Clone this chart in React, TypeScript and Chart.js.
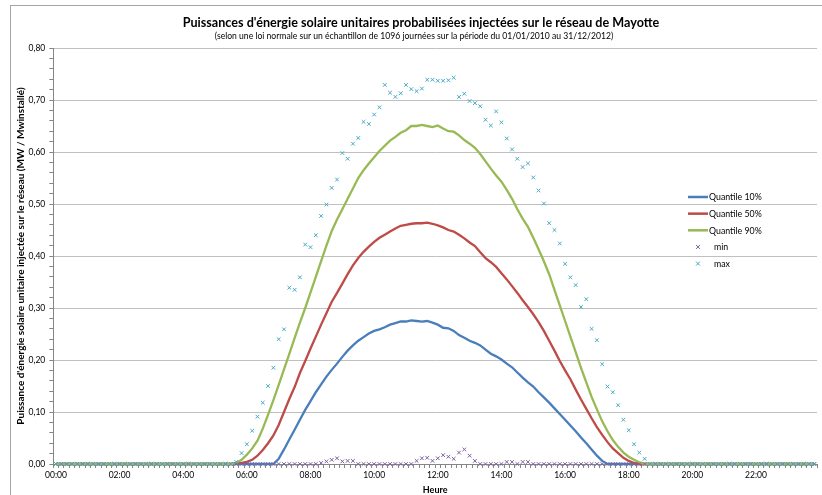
import { useEffect, useRef } from 'react';
import { Chart, registerables } from 'chart.js';

Chart.register(...registerables);

const FONT = 'Lato, "Noto Sans", sans-serif';

const titleText = "Puissances d'énergie solaire unitaires probabilisées injectées sur le réseau de Mayotte";
const subtitleText = "(selon une loi normale sur un échantillon de 1096 journées sur la période du 01/01/2010 au 31/12/2012)";
const yAxisTitle = "Puissance d'énergie solaire unitaire injectée sur le réseau (MW / Mwinstallé)";
const xAxisTitle = 'Heure';

const timeLabels = [
  '00:00','00:10','00:20','00:30','00:40','00:50','01:00','01:10','01:20','01:30','01:40','01:50',
  '02:00','02:10','02:20','02:30','02:40','02:50','03:00','03:10','03:20','03:30','03:40','03:50',
  '04:00','04:10','04:20','04:30','04:40','04:50','05:00','05:10','05:20','05:30','05:40','05:50',
  '06:00','06:10','06:20','06:30','06:40','06:50','07:00','07:10','07:20','07:30','07:40','07:50',
  '08:00','08:10','08:20','08:30','08:40','08:50','09:00','09:10','09:20','09:30','09:40','09:50',
  '10:00','10:10','10:20','10:30','10:40','10:50','11:00','11:10','11:20','11:30','11:40','11:50',
  '12:00','12:10','12:20','12:30','12:40','12:50','13:00','13:10','13:20','13:30','13:40','13:50',
  '14:00','14:10','14:20','14:30','14:40','14:50','15:00','15:10','15:20','15:30','15:40','15:50',
  '16:00','16:10','16:20','16:30','16:40','16:50','17:00','17:10','17:20','17:30','17:40','17:50',
  '18:00','18:10','18:20','18:30','18:40','18:50','19:00','19:10','19:20','19:30','19:40','19:50',
  '20:00','20:10','20:20','20:30','20:40','20:50','21:00','21:10','21:20','21:30','21:40','21:50',
  '22:00','22:10','22:20','22:30','22:40','22:50','23:00','23:10','23:20','23:30','23:40','23:50',
];

const quantile10 = [
  0,0,0,0,0,0,0,0,0,0,0,0,
  0,0,0,0,0,0,0,0,0,0,0,0,
  0,0,0,0,0,0,0,0,0,0,0,0,
  0,0,0,0,0,0,0.010,0.028,0.047,0.066,0.085,0.104,
  0.121,0.138,0.153,0.168,0.181,0.193,0.206,0.218,0.228,0.237,0.244,0.251,
  0.256,0.259,0.263,0.268,0.271,0.274,0.274,0.276,0.275,0.274,0.275,0.272,
  0.268,0.262,0.261,0.256,0.248,0.243,0.237,0.233,0.228,0.220,0.212,0.207,
  0.201,0.193,0.186,0.176,0.166,0.157,0.149,0.138,0.128,0.118,0.107,0.096,
  0.085,0.074,0.063,0.051,0.040,0.028,0.016,0.006,0,0,0,0,
  0,0,0,0,0,0,0,0,0,0,0,0,
  0,0,0,0,0,0,0,0,0,0,0,0,
  0,0,0,0,0,0,0,0,0,0,0,0,
];

const quantile50 = [
  0,0,0,0,0,0,0,0,0,0,0,0,
  0,0,0,0,0,0,0,0,0,0,0,0,
  0,0,0,0,0,0,0,0,0,0,0.001,0.002,
  0.004,0.008,0.016,0.027,0.040,0.055,0.075,0.100,0.125,0.148,0.175,0.198,
  0.222,0.245,0.268,0.290,0.312,0.329,0.347,0.365,0.382,0.396,0.408,0.418,
  0.427,0.435,0.441,0.447,0.453,0.458,0.460,0.462,0.463,0.463,0.464,0.462,
  0.459,0.455,0.450,0.447,0.441,0.434,0.426,0.419,0.407,0.396,0.388,0.379,
  0.367,0.355,0.342,0.329,0.315,0.302,0.288,0.273,0.256,0.237,0.218,0.198,
  0.180,0.163,0.143,0.124,0.106,0.088,0.071,0.056,0.042,0.030,0.021,0.012,
  0.006,0.002,0,0,0,0,0,0,0,0,0,0,
  0,0,0,0,0,0,0,0,0,0,0,0,
  0,0,0,0,0,0,0,0,0,0,0,0,
];

const quantile90 = [
  0,0,0,0,0,0,0,0,0,0,0,0,
  0,0,0,0,0,0,0,0,0,0,0,0,
  0,0,0,0,0,0,0,0,0,0,0.002,0.008,
  0.018,0.030,0.045,0.068,0.095,0.123,0.152,0.182,0.212,0.242,0.272,0.300,
  0.330,0.360,0.390,0.420,0.448,0.470,0.490,0.510,0.530,0.550,0.565,0.578,
  0.590,0.602,0.612,0.622,0.629,0.637,0.642,0.650,0.650,0.652,0.650,0.648,
  0.651,0.645,0.640,0.639,0.632,0.623,0.616,0.608,0.596,0.582,0.568,0.555,
  0.543,0.527,0.510,0.490,0.472,0.456,0.435,0.413,0.390,0.365,0.335,0.305,
  0.275,0.245,0.215,0.185,0.157,0.129,0.105,0.082,0.063,0.046,0.033,0.022,
  0.014,0.008,0.003,0,0,0,0,0,0,0,0,0,
  0,0,0,0,0,0,0,0,0,0,0,0,
  0,0,0,0,0,0,0,0,0,0,0,0,
];

const minValues = [
  0,0,0,0,0,0,0,0,0,0,0,0,
  0,0,0,0,0,0,0,0,0,0,0,0,
  0,0,0,0,0,0,0,0,0,0,0,0,
  0,0,0,0,0,0,0,0,0,0,0,0,
  0,0,0.002,0.005,0.008,0.011,0.005,0.006,0.006,0,0,0,
  0,0,0,0,0,0,0,0,0.006,0.011,0.012,0.006,
  0.011,0.017,0.014,0.010,0.022,0.028,0.016,0.006,0,0,0,0,
  0,0.004,0.004,0,0.004,0.004,0,0,0,0,0,0,
  0,0,0,0,0,0,0,0,0,0,0,0,
  0,0,0,0,0,0,0,0,0,0,0,0,
  0,0,0,0,0,0,0,0,0,0,0,0,
  0,0,0,0,0,0,0,0,0,0,0,0,
];

const maxValues = [
  0,0,0,0,0,0,0,0,0,0,0,0,
  0,0,0,0,0,0,0,0,0,0,0,0,
  0,0,0,0,0,0,0,0,0,0,0.004,0.021,
  0.038,0.064,0.091,0.118,0.150,0.185,0.240,0.259,0.339,0.335,0.359,0.422,
  0.417,0.440,0.477,0.499,0.531,0.547,0.598,0.587,0.616,0.627,0.658,0.654,
  0.672,0.686,0.729,0.714,0.706,0.713,0.729,0.721,0.717,0.722,0.739,0.739,
  0.737,0.737,0.738,0.743,0.706,0.712,0.698,0.694,0.688,0.662,0.651,0.678,
  0.657,0.626,0.605,0.587,0.571,0.578,0.551,0.526,0.501,0.463,0.450,0.424,
  0.385,0.359,0.344,0.302,0.317,0.260,0.238,0.192,0.149,0.138,0.113,0.085,
  0.065,0.038,0.022,0.010,0,0,0,0,0,0,0,0,
  0,0,0,0,0,0,0,0,0,0,0,0,
  0,0,0,0,0,0,0,0,0,0,0,0,
];

const seriesNames = ['Quantile 10%', 'Quantile 50%', 'Quantile 90%', 'min', 'max'];
const seriesColors = ['#4A7EBB', '#BE4B48', '#98B954', '#7D60A0', '#46AAC5'];

const titlesPlugin = {
  id: 'titlesPlugin',
  afterDraw(chart: any) {
    const ctx = chart.ctx;
    ctx.save();
    ctx.fillStyle = '#000';
    ctx.textAlign = 'center';
    ctx.textBaseline = 'middle';
    ctx.font = `bold 12.6px ${FONT}`;
    ctx.fillText(titleText, 421, 23);
    ctx.font = `8.6px ${FONT}`;
    ctx.fillText(subtitleText, 414, 36);
    ctx.restore();
  },
};

const legendPlugin = {
  id: 'customLegend',
  afterDraw(chart: any) {
    const ctx = chart.ctx;
    const x0 = 688;
    const y0 = 197;
    const dy = 16.65;
    ctx.save();
    chart.data.datasets.forEach((ds: any, i: number) => {
      const y = y0 + i * dy;
      if (ds.showLine === false) {
        const cx = x0 + 10;
        const r = 2;
        ctx.strokeStyle = ds.pointBorderColor;
        ctx.lineWidth = 1;
        ctx.beginPath();
        ctx.moveTo(cx - r, y - r);
        ctx.lineTo(cx + r, y + r);
        ctx.moveTo(cx + r, y - r);
        ctx.lineTo(cx - r, y + r);
        ctx.stroke();
      } else {
        ctx.strokeStyle = ds.borderColor;
        ctx.lineWidth = 2.5;
        ctx.beginPath();
        ctx.moveTo(x0, y);
        ctx.lineTo(x0 + 20, y);
        ctx.stroke();
      }
      ctx.fillStyle = '#000';
      ctx.font = `8.8px ${FONT}`;
      ctx.textAlign = 'left';
      ctx.textBaseline = 'middle';
      ctx.fillText(ds.label, x0 + (ds.showLine === false ? 26 : 21), y + 0.5);
    });
    ctx.restore();
  },
};

function isMajor(v: number) {
  return Math.abs(Math.round(v * 100) % 10) === 0;
}

export default function App() {
  const canvasRef = useRef<HTMLCanvasElement | null>(null);

  useEffect(() => {
    const canvas = canvasRef.current;
    if (!canvas) return;
    const lineDs = (label: string, data: number[], color: string, order: number) => ({
      label,
      data,
      borderColor: color,
      backgroundColor: color,
      borderWidth: 2.3,
      pointRadius: 0,
      tension: 0,
      clip: 3,
      order,
    });
    const markDs = (label: string, data: number[], color: string, order: number) => ({
      label,
      data,
      showLine: false,
      borderColor: color,
      backgroundColor: color,
      pointBorderColor: color,
      pointBackgroundColor: color,
      pointStyle: 'crossRot',
      pointRadius: 2.6,
      pointBorderWidth: 1,
      clip: false,
      order,
    });
    const chart = new Chart(canvas, {
      type: 'line',
      data: {
        labels: timeLabels,
        datasets: [
          lineDs(seriesNames[0], quantile10, seriesColors[0], 5),
          lineDs(seriesNames[1], quantile50, seriesColors[1], 4),
          lineDs(seriesNames[2], quantile90, seriesColors[2], 3),
          markDs(seriesNames[3], minValues, seriesColors[3], 2),
          markDs(seriesNames[4], maxValues, seriesColors[4], 1),
        ] as any,
      },
      options: {
        animation: false,
        responsive: false,
        devicePixelRatio: 1,
        layout: { padding: { left: 0, right: 3.5, top: 48, bottom: 0 } },
        plugins: {
          legend: { display: false },
          tooltip: { enabled: false },
          title: { display: false },
        },
        scales: {
          x: {
            type: 'category',
            offset: true,
            grid: {
              offset: true,
              drawOnChartArea: false,
              drawTicks: true,
              tickLength: 4,
              color: '#868686',
            },
            border: { color: '#868686', width: 1 },
            ticks: {
              autoSkip: false,
              maxRotation: 0,
              minRotation: 0,
              padding: 2,
              color: '#000',
              font: { family: FONT, size: 8.5 },
              callback: (_v: any, i: number) => (i % 12 === 0 ? timeLabels[i] : ''),
            },
            title: {
              display: true,
              text: xAxisTitle,
              color: '#000',
              font: { family: FONT, size: 9, weight: 'bold' },
              padding: { top: 0, bottom: 0 },
            },
            afterFit: (s: any) => {
              s.height = 31;
            },
          },
          y: {
            min: 0,
            max: 0.8,
            grid: {
              color: (c: any) => (c.tick && isMajor(c.tick.value) ? '#c0c0c0' : 'rgba(0,0,0,0)'),
              tickColor: '#868686',
              tickLength: 4,
              lineWidth: 1,
            },
            border: { color: '#868686', width: 1 },
            ticks: {
              stepSize: 0.02,
              autoSkip: false,
              padding: 4,
              color: '#000',
              font: { family: FONT, size: 8.5 },
              callback: (v: any) => (isMajor(Number(v)) ? Number(v).toFixed(2).replace('.', ',') : ''),
            },
            title: {
              display: true,
              text: yAxisTitle,
              color: '#000',
              font: { family: FONT, size: 10, weight: 'bold' },
              padding: { top: 15, bottom: 0 },
            },
            afterFit: (s: any) => {
              s.width = 53.3;
            },
          },
        },
      } as any,
      plugins: [titlesPlugin, legendPlugin],
    });
    return () => chart.destroy();
  }, []);

  return (
    <div
      style={{
        position: 'absolute',
        left: 0,
        top: 0,
        width: 822,
        height: 495,
        overflow: 'hidden',
        background: '#fff',
      }}
    >
      <div
        style={{
          position: 'absolute',
          left: 10,
          top: 5,
          width: 900,
          height: 600,
          border: '1px solid #a6a6a6',
          boxSizing: 'border-box',
        }}
      />
      <canvas
        ref={canvasRef}
        width={822}
        height={495}
        style={{ position: 'absolute', left: 0, top: 0, width: 822, height: 495 }}
      />
    </div>
  );
}
